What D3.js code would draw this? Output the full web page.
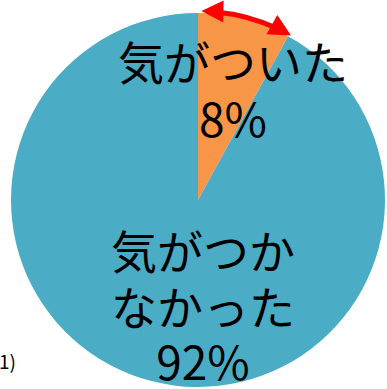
<!DOCTYPE html>
<html>
<head>
<meta charset="utf-8">
<script src="https://cdn.jsdelivr.net/npm/d3@7/dist/d3.min.js"></script>
<style>
  html, body { margin: 0; padding: 0; background: #ffffff; }
  svg { display: block; }
</style>
</head>
<body>
<svg id="chart" width="387" height="389"></svg>
<script>
// Survey answer shares (percent)
const categories = ["気がついた", "気がつかなかった"];
const values = [8, 92];
const colors = ["#F79646", "#4BACC6"];
// Label text, one line per entry; the last line is the percentage
const labelLines = [
  ["気がついた"],
  ["気がつか", "なかった"]
];
const noteText = "1)";

const svg = d3.select("#chart");
const cx = 198, cy = 200, radius = 187;

const pie = d3.pie().sort(null).value(d => d)(values);
const arc = d3.arc().innerRadius(0).outerRadius(radius);

const g = svg.append("g").attr("transform", `translate(${cx},${cy})`);
g.selectAll("path.slice")
  .data(pie)
  .join("path")
  .attr("class", "slice")
  .attr("d", arc)
  .attr("fill", (d, i) => colors[i]);

// Curved double-headed arrow spanning the small slice, just outside the rim
const arrowR = 189;
const a0 = pie[0].startAngle + 0.018;
const a1 = pie[0].endAngle + 0.012;
const pt = (a, r) => [r * Math.sin(a), -r * Math.cos(a)];
const headLen = 22, headW = 22;
const shaftPath = d3.path();
shaftPath.arc(0, 0, arrowR, a0 + 0.08 - Math.PI / 2, a1 - 0.08 - Math.PI / 2);
g.append("path")
  .attr("d", shaftPath.toString())
  .attr("fill", "none")
  .attr("stroke", "#FF0000")
  .attr("stroke-width", 5);

function head(a, dirSign) {
  // dirSign: +1 head points clockwise, -1 counter-clockwise
  const [tx, ty] = pt(a, arrowR);
  const tan = [Math.cos(a) * dirSign, Math.sin(a) * dirSign];
  const nrm = [Math.sin(a), -Math.cos(a)];
  const bx = tx - tan[0] * headLen, by = ty - tan[1] * headLen;
  return [
    [tx, ty],
    [bx + nrm[0] * headW / 2, by + nrm[1] * headW / 2],
    [bx - nrm[0] * headW / 2, by - nrm[1] * headW / 2]
  ];
}
g.selectAll("polygon.head")
  .data([head(a0, -1), head(a1, 1)])
  .join("polygon")
  .attr("class", "head")
  .attr("points", d => d.map(p => p.join(",")).join(" "))
  .attr("fill", "#FF0000");

// Slice labels
const fmt = v => `${v}%`;
const labelFont = "'Noto Sans CJK JP', 'Noto Sans', sans-serif";
const labelSpecs = [
  { x: 233, baselines: [80, 137] },
  { x: 203, baselines: [269, 325, 380] }
];
labelSpecs.forEach((spec, i) => {
  const lines = labelLines[i].concat([fmt(values[i])]);
  const t = svg.append("text")
    .attr("text-anchor", "middle")
    .attr("font-family", labelFont)
    .attr("font-size", 46)
    .attr("fill", "#000");
  lines.forEach((line, j) => {
    t.append("tspan").attr("x", spec.x).attr("y", spec.baselines[j]).text(line);
  });
});

// Footnote marker at lower left
svg.append("text")
  .attr("x", -1)
  .attr("y", 369)
  .attr("font-family", labelFont)
  .attr("font-size", 19)
  .attr("fill", "#000")
  .text(noteText);
</script>
</body>
</html>
